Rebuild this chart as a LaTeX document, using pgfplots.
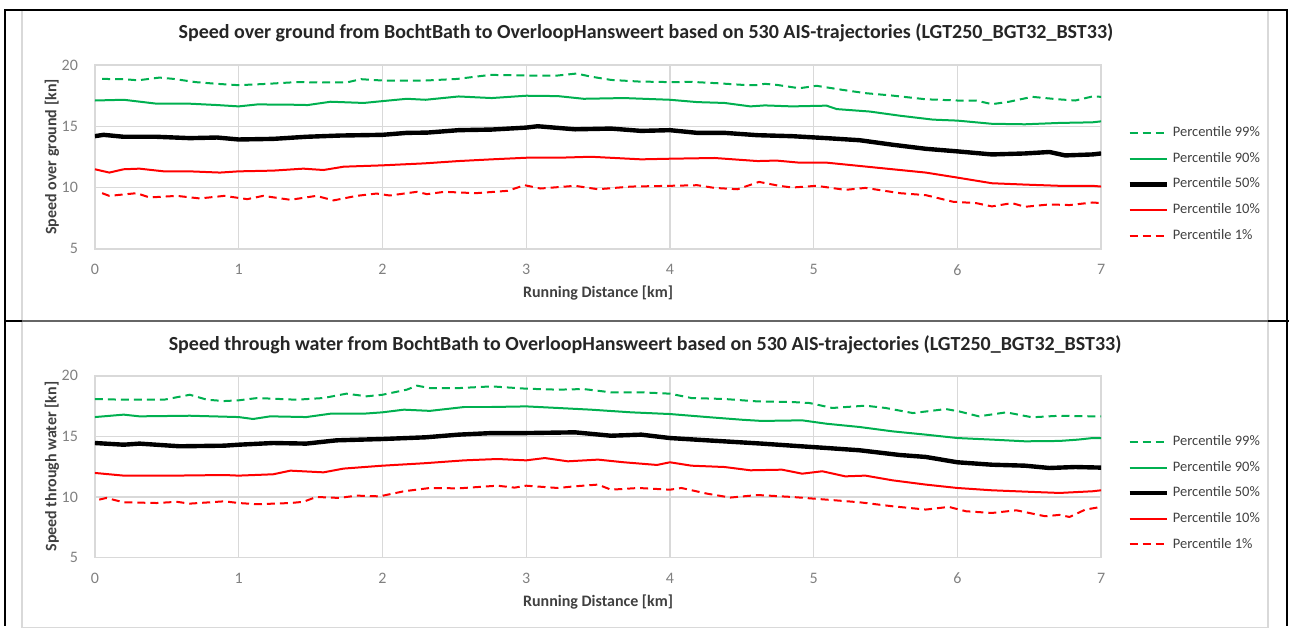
\documentclass[border=0pt]{standalone}
\usepackage{pgfplots}
\pgfplotsset{compat=1.18}
\usepackage{fontspec}
\setmainfont{Carlito}
\definecolor{pgreen}{RGB}{0,176,80}
\definecolor{pred}{RGB}{255,0,0}
\definecolor{ticktext}{RGB}{128,128,128}
\definecolor{gridc}{RGB}{217,217,217}
\definecolor{labtext}{RGB}{64,64,64}
\pgfplotsset{
  myaxis/.style={
    scale only axis,
    width=503.5pt,
    xmin=0, xmax=7, ymin=5, ymax=20,
    xtick={0,1,2,3,4,5,6,7},
    ytick={5,10,15,20},
    major tick length=0pt,
    grid=major,
    grid style={draw=gridc, line width=0.6pt},
    axis line style={draw=gridc, line width=0.8pt},
    tick label style={font=\fontsize{8}{9}\selectfont, text=ticktext},
    /pgf/number format/assume math mode=true,
    xticklabel style={anchor=center, yshift=-10.5pt},
    yticklabel style={xshift=-5pt},
    label style={font=\bfseries\fontsize{8}{9}\selectfont, text=labtext},
    xlabel={Running Distance [km]},
    legend style={draw=none, fill=none, anchor=west, inner sep=0pt,
      font=\fontsize{7.25}{8}\selectfont, text=labtext, row sep=2.3pt},
    legend cell align=left,
    legend image code/.code={\draw[##1] (0pt,0pt) -- (18.5pt,0pt);},
    p99/.style={color=pgreen, line width=1pt, dash pattern=on 4pt off 2.5pt},
    p90/.style={color=pgreen, line width=1pt},
    p50/.style={color=black, line width=2.2pt},
    p10/.style={color=pred, line width=1pt},
    p1/.style={color=pred, line width=1pt, dash pattern=on 4pt off 2.5pt},
  }
}
\begin{document}
\begin{tikzpicture}
\path (0pt,0pt) rectangle (645pt,-312.5pt);
% chart areas
\draw[gridc, line width=0.6pt] (11pt,-5pt) rectangle (634.5pt,-160.5pt);
\draw[gridc, line width=0.6pt] (11pt,-160.5pt) rectangle (634.5pt,-314pt);
% table borders
\draw[black, line width=1pt] (2.5pt,-313pt) -- (2.5pt,-5pt) -- (643.75pt,-5pt) -- (643.75pt,-313pt);
\draw[black, line width=1pt] (2.5pt,-160.5pt) -- (11pt,-160.5pt);
\draw[black!60, line width=1pt] (11pt,-160.5pt) -- (634.5pt,-160.5pt);
\draw[black, line width=1pt] (634.5pt,-160.5pt) -- (645pt,-160.5pt);
% titles
\node[font=\bfseries\fontsize{10}{12}\selectfont, text=black!85] at (323.2pt,-16.5pt)
  {Speed over ground from BochtBath to OverloopHansweert based on 530 AIS-trajectories (LGT250\_BGT32\_BST33)};
\node[font=\bfseries\fontsize{10}{12}\selectfont, text=black!85] at (322.8pt,-172.5pt)
  {Speed through water from BochtBath to OverloopHansweert based on 530 AIS-trajectories (LGT250\_BGT32\_BST33)};

\begin{axis}[myaxis, at={(47.5pt,-124.5pt)}, anchor=south west, height=92pt,
  ylabel={Speed over ground [kn]},
  ylabel style={at={(axis description cs:-0.0427,0.5)}, anchor=center},
  xlabel style={at={(axis description cs:0.5,-0.239)}, anchor=center},
  legend style={at={(axis description cs:1.0258,0.35)}}]
\addplot[p99] coordinates {(0.05,18.86)(0.2,18.84)(0.3,18.75)(0.45,18.97)(0.55,18.86)(0.7,18.6)(0.85,18.46)(1.0,18.35)(1.2,18.46)(1.4,18.6)(1.6,18.57)(1.75,18.57)(1.85,18.84)(2.0,18.73)(2.15,18.73)(2.3,18.73)(2.52,18.86)(2.75,19.19)(3.0,19.14)(3.22,19.14)(3.35,19.3)(3.45,19.05)(3.59,18.78)(3.78,18.65)(4.0,18.6)(4.15,18.62)(4.33,18.51)(4.5,18.38)(4.6,18.35)(4.66,18.46)(4.74,18.38)(4.9,18.1)(5.02,18.3)(5.2,17.97)(5.36,17.7)(5.55,17.5)(5.78,17.2)(6.0,17.1)(6.13,17.1)(6.24,16.8)(6.36,17.0)(6.52,17.4)(6.7,17.2)(6.82,17.1)(6.94,17.43)(7.0,17.4)};
\addlegendentry{Percentile 99\%}
\addplot[p90] coordinates {(0.0,17.1)(0.2,17.16)(0.43,16.84)(0.66,16.84)(0.85,16.73)(1.0,16.62)(1.13,16.78)(1.36,16.76)(1.48,16.73)(1.64,17.0)(1.87,16.9)(2.0,17.05)(2.17,17.24)(2.3,17.16)(2.53,17.43)(2.76,17.3)(3.0,17.49)(3.22,17.46)(3.4,17.24)(3.68,17.3)(4.0,17.16)(4.19,16.97)(4.38,16.9)(4.56,16.62)(4.66,16.7)(4.85,16.62)(5.09,16.68)(5.16,16.4)(5.39,16.2)(5.6,15.86)(5.83,15.54)(6.0,15.46)(6.24,15.2)(6.47,15.16)(6.71,15.27)(6.94,15.32)(7.0,15.4)};
\addlegendentry{Percentile 90\%}
\addplot[p50] coordinates {(0.0,14.19)(0.06,14.3)(0.2,14.14)(0.43,14.14)(0.66,14.03)(0.85,14.08)(1.0,13.92)(1.24,13.97)(1.47,14.14)(1.7,14.24)(2.0,14.3)(2.17,14.46)(2.31,14.48)(2.53,14.68)(2.76,14.73)(3.0,14.89)(3.08,15.0)(3.34,14.75)(3.59,14.81)(3.8,14.62)(4.0,14.68)(4.19,14.46)(4.38,14.46)(4.61,14.27)(4.85,14.19)(5.09,14.03)(5.32,13.86)(5.55,13.49)(5.78,13.16)(6.0,12.95)(6.24,12.7)(6.47,12.78)(6.64,12.9)(6.75,12.62)(6.94,12.7)(7.0,12.78)};
\addlegendentry{Percentile 50\%}
\addplot[p10] coordinates {(0.0,11.49)(0.1,11.22)(0.2,11.49)(0.31,11.54)(0.48,11.32)(0.66,11.32)(0.87,11.22)(1.0,11.32)(1.24,11.38)(1.45,11.54)(1.59,11.43)(1.73,11.7)(2.0,11.81)(2.29,11.97)(2.53,12.16)(2.76,12.3)(3.0,12.43)(3.22,12.43)(3.45,12.51)(3.8,12.3)(4.0,12.35)(4.31,12.41)(4.61,12.16)(4.74,12.2)(4.9,12.03)(5.09,12.03)(5.32,11.76)(5.55,11.49)(5.78,11.22)(6.0,10.81)(6.24,10.35)(6.47,10.24)(6.71,10.14)(6.94,10.14)(7.0,10.08)};
\addlegendentry{Percentile 10\%}
\addplot[p1] coordinates {(0.05,9.54)(0.1,9.32)(0.29,9.54)(0.38,9.19)(0.57,9.32)(0.73,9.11)(0.9,9.32)(1.06,9.05)(1.17,9.32)(1.36,9.0)(1.54,9.32)(1.66,8.95)(1.82,9.32)(1.96,9.51)(2.05,9.35)(2.24,9.65)(2.31,9.46)(2.43,9.65)(2.65,9.54)(2.87,9.73)(2.99,10.19)(3.1,9.92)(3.34,10.14)(3.5,9.86)(3.73,10.08)(4.0,10.14)(4.19,10.19)(4.31,9.97)(4.47,9.86)(4.62,10.46)(4.76,10.14)(4.85,10.0)(5.02,10.14)(5.22,9.81)(5.36,9.97)(5.6,9.54)(5.78,9.38)(5.97,8.84)(6.13,8.73)(6.24,8.46)(6.38,8.73)(6.47,8.43)(6.64,8.62)(6.78,8.57)(6.94,8.78)(7.0,8.73)};
\addlegendentry{Percentile 1\%}
\end{axis}

\begin{axis}[myaxis, at={(47.5pt,-279pt)}, anchor=south west, height=91pt,
  ylabel={Speed through water [kn]},
  ylabel style={at={(axis description cs:-0.0427,0.5)}, anchor=center},
  xlabel style={at={(axis description cs:0.5,-0.242)}, anchor=center},
  legend style={at={(axis description cs:1.0258,0.354)}}]
\addplot[p99] coordinates {(0.0,18.08)(0.2,18.02)(0.48,18.02)(0.66,18.43)(0.78,18.02)(0.9,17.91)(1.0,17.97)(1.13,18.16)(1.4,18.02)(1.59,18.16)(1.75,18.52)(1.89,18.3)(2.0,18.43)(2.17,18.85)(2.24,19.18)(2.33,18.98)(2.53,18.98)(2.76,19.12)(3.0,18.93)(3.22,18.85)(3.4,18.9)(3.59,18.63)(3.8,18.63)(4.0,18.52)(4.15,18.16)(4.38,18.08)(4.61,17.88)(4.85,17.83)(4.97,17.75)(5.13,17.34)(5.36,17.53)(5.5,17.34)(5.69,16.92)(5.92,17.25)(6.01,17.06)(6.15,16.65)(6.34,16.98)(6.52,16.57)(6.71,16.7)(6.94,16.65)(7.0,16.65)};
\addlegendentry{Percentile 99\%}
\addplot[p90] coordinates {(0.0,16.59)(0.2,16.79)(0.31,16.65)(0.66,16.7)(1.0,16.59)(1.1,16.43)(1.22,16.65)(1.47,16.59)(1.64,16.87)(1.87,16.87)(2.0,16.98)(2.15,17.2)(2.33,17.1)(2.57,17.42)(2.76,17.42)(3.0,17.47)(3.22,17.34)(3.45,17.2)(3.73,16.98)(4.0,16.84)(4.26,16.59)(4.5,16.37)(4.64,16.27)(4.92,16.32)(5.09,16.04)(5.32,15.77)(5.55,15.41)(5.78,15.14)(6.0,14.86)(6.24,14.73)(6.47,14.59)(6.71,14.62)(6.84,14.73)(6.94,14.86)(7.0,14.86)};
\addlegendentry{Percentile 90\%}
\addplot[p50] coordinates {(0.0,14.45)(0.2,14.31)(0.31,14.4)(0.59,14.18)(0.9,14.23)(1.0,14.31)(1.24,14.45)(1.47,14.4)(1.68,14.67)(2.0,14.78)(2.3,14.92)(2.53,15.14)(2.76,15.27)(3.0,15.27)(3.34,15.33)(3.59,15.05)(3.8,15.14)(4.0,14.86)(4.26,14.67)(4.5,14.5)(4.64,14.4)(4.85,14.23)(5.09,14.04)(5.32,13.85)(5.6,13.46)(5.78,13.3)(6.0,12.86)(6.24,12.66)(6.47,12.58)(6.64,12.39)(6.82,12.47)(7.0,12.42)};
\addlegendentry{Percentile 50\%}
\addplot[p10] coordinates {(0.0,11.98)(0.2,11.76)(0.55,11.76)(0.9,11.81)(1.0,11.76)(1.24,11.87)(1.36,12.17)(1.59,12.03)(1.73,12.34)(2.0,12.58)(2.29,12.78)(2.57,13.02)(2.8,13.13)(3.0,13.02)(3.13,13.21)(3.29,12.94)(3.5,13.08)(3.68,12.86)(3.91,12.64)(4.0,12.86)(4.15,12.58)(4.38,12.47)(4.56,12.2)(4.78,12.25)(4.92,11.92)(5.06,12.12)(5.22,11.7)(5.36,11.76)(5.55,11.37)(5.78,11.02)(6.0,10.74)(6.24,10.55)(6.47,10.44)(6.71,10.33)(6.94,10.47)(7.0,10.55)};
\addlegendentry{Percentile 10\%}
\addplot[p1] coordinates {(0.03,9.78)(0.08,9.92)(0.2,9.56)(0.43,9.5)(0.57,9.6)(0.66,9.45)(0.9,9.64)(1.0,9.5)(1.13,9.4)(1.36,9.5)(1.45,9.6)(1.54,10.0)(1.7,9.92)(1.82,10.11)(1.98,10.05)(2.15,10.47)(2.33,10.74)(2.53,10.71)(2.8,10.93)(2.92,10.77)(3.0,10.93)(3.22,10.74)(3.34,10.88)(3.5,11.02)(3.59,10.6)(3.78,10.74)(4.0,10.6)(4.08,10.74)(4.26,10.27)(4.42,9.95)(4.61,10.16)(4.85,10.0)(5.09,9.78)(5.32,9.56)(5.55,9.23)(5.78,8.96)(5.94,9.18)(6.06,8.82)(6.24,8.68)(6.41,8.9)(6.61,8.41)(6.71,8.52)(6.78,8.35)(6.89,8.96)(7.0,9.18)};
\addlegendentry{Percentile 1\%}
\end{axis}
\end{tikzpicture}
\end{document}
